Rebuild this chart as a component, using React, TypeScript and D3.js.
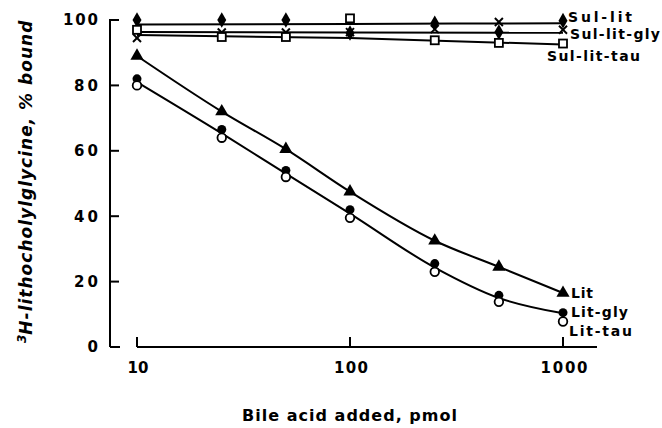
import React from "react";
import * as d3 from "d3";

// bile acid added (pmol), log axis
const doses = [10, 25, 50, 100, 250, 500, 1000];
const xTicks = [10, 100, 1000];
const yTicks = [0, 20, 40, 60, 80, 100];

// % bound
const sulLit = [100, 100, 100, 96, 99, 96.3, 99.8];
const sulLitGly = [94.5, 96.2, 96.2, 96.3, 97.2, 99.4, 97];
const sulLitTau = [97, 94.8, 94.8, 100.5, 93.8, 93, 92.8];
const lit = [89, 72, 60.5, 47.5, 32.5, 24.5, 16.5];
const litGly = [82, 66.5, 54, 42, 25.5, 15.8, 10.5];
const litTau = [80, 64, 52, 39.5, 23, 13.8, 7.8];

// fitted curves drawn by the authors
const fitDoses = [10, 100, 1000];
const sulLitFit = [98.6, 98.8, 99];
const sulLitGlyFit = [96.3, 96.2, 96.1];
const sulLitTauFit = [95.4, 94.5, 92.5];
const litFit = [89, 72, 60.5, 47.5, 32.5, 24.5, 16.5];
const litGlyTauFit = [81, 65.3, 53, 40.8, 24.3, 15, 10.3];

const font = "'DejaVu Sans', sans-serif";

// label placement: [text, x, baseline, width]
const seriesLabels: [string, number, number, number][] = [
  ["Sul-lit", 568, 22, 64],
  ["Sul-lit-gly", 570, 39, 90],
  ["Sul-lit-tau", 547, 61, 93],
  ["Lit", 571, 298, 22],
  ["Lit-gly", 571, 317, 57],
  ["Lit-tau", 569, 336, 63],
];

export default function App() {
  const x = d3.scaleLog().domain([10, 1000]).range([137, 563]);
  const y = d3.scaleLinear().domain([0, 100]).range([347, 20]);

  const line = d3
    .line<[number, number]>()
    .x((d) => x(d[0]))
    .y((d) => y(d[1]))
    .curve(d3.curveMonotoneX);

  const pairs = (xs: number[], ys: number[]) =>
    xs.map((v, i) => [v, ys[i]] as [number, number]);

  const diamond = d3.symbol(d3.symbolDiamond, 70)()!;
  const triangle = d3.symbol(d3.symbolTriangle, 75)()!;

  return (
    <svg
      width={662}
      height={428}
      style={{ position: "absolute", left: 0, top: 0, background: "#fff" }}
    >
      {/* y axis */}
      <line x1={110} x2={110} y1={y(100) - 1} y2={y(0)} stroke="#000" strokeWidth={2} />
      {yTicks.map((t) => (
        <g key={t}>
          <line x1={110} x2={t === 0 ? 120 : 119} y1={y(t)} y2={y(t)} stroke="#000" strokeWidth={2} />
          <text
            x={98}
            y={y(t)}
            dy="0.36em"
            textAnchor="end"
            fontFamily={font}
            fontWeight="bold"
            fontSize={15}
            textLength={t === 0 ? 12 : t === 100 ? 35 : 24}
          >
            {t}
          </text>
        </g>
      ))}

      {/* x axis */}
      <line x1={x(10)} x2={597} y1={y(0)} y2={y(0)} stroke="#000" strokeWidth={2} />
      {xTicks.map((t) => (
        <g key={t}>
          <line x1={x(t)} x2={x(t)} y1={y(0)} y2={y(0) - 10} stroke="#000" strokeWidth={2} />
          <text
            x={x(t) + 1}
            y={368}
            dy="0.36em"
            textAnchor="middle"
            fontFamily={font}
            fontWeight="bold"
            fontSize={15}
            textLength={t === 10 ? 21 : t === 100 ? 34 : 47}
          >
            {t}
          </text>
        </g>
      ))}

      <text
        x={242}
        y={421}
        fontFamily={font}
        fontWeight="bold"
        fontSize={16}
        textLength={215}
      >
        Bile acid added, pmol
      </text>

      <text
        transform="translate(32,343) rotate(-90)"
        fontFamily={font}
        fontWeight="bold"
        fontStyle="italic"
        fontSize={17}
      >
        <tspan fontSize={12} dy="-6">3</tspan>
        <tspan dy="6" textLength={314}>H-lithocholylglycine, % bound</tspan>
      </text>

      {/* fitted lines */}
      <g fill="none" stroke="#000" strokeWidth={2}>
        <path d={line(pairs(fitDoses, sulLitFit))!} />
        <path d={line(pairs(fitDoses, sulLitGlyFit))!} />
        <path d={line(pairs(fitDoses, sulLitTauFit))!} />
        <path d={line(pairs(doses, litFit))!} />
        <path d={line(pairs(doses, litGlyTauFit))!} />
      </g>

      {/* markers */}
      {doses.map((d, i) => (
        <g key={d}>
          <path d={diamond} transform={`translate(${x(d)},${y(sulLit[i])})`} fill="#000" />
          <g transform={`translate(${x(d)},${y(sulLitGly[i])})`} stroke="#000" strokeWidth={2}>
            <line x1={-4} x2={4} y1={-4} y2={4} />
            <line x1={-4} x2={4} y1={4} y2={-4} />
          </g>
          <rect
            x={x(d) - 4}
            y={y(sulLitTau[i]) - 4}
            width={8}
            height={8}
            fill="#fff"
            stroke="#000"
            strokeWidth={1.8}
          />
          <path d={triangle} transform={`translate(${x(d)},${y(lit[i])})`} fill="#000" />
          <circle cx={x(d)} cy={y(litGly[i])} r={4.5} fill="#000" />
          <circle cx={x(d)} cy={y(litTau[i])} r={4.3} fill="#fff" stroke="#000" strokeWidth={1.8} />
        </g>
      ))}

      {/* series labels */}
      <g fontFamily={font} fontWeight="bold" fontSize={14}>
        {seriesLabels.map(([t, lx, ly, w]) => (
          <text key={t} x={lx} y={ly} textLength={w}>
            {t}
          </text>
        ))}
      </g>
    </svg>
  );
}
